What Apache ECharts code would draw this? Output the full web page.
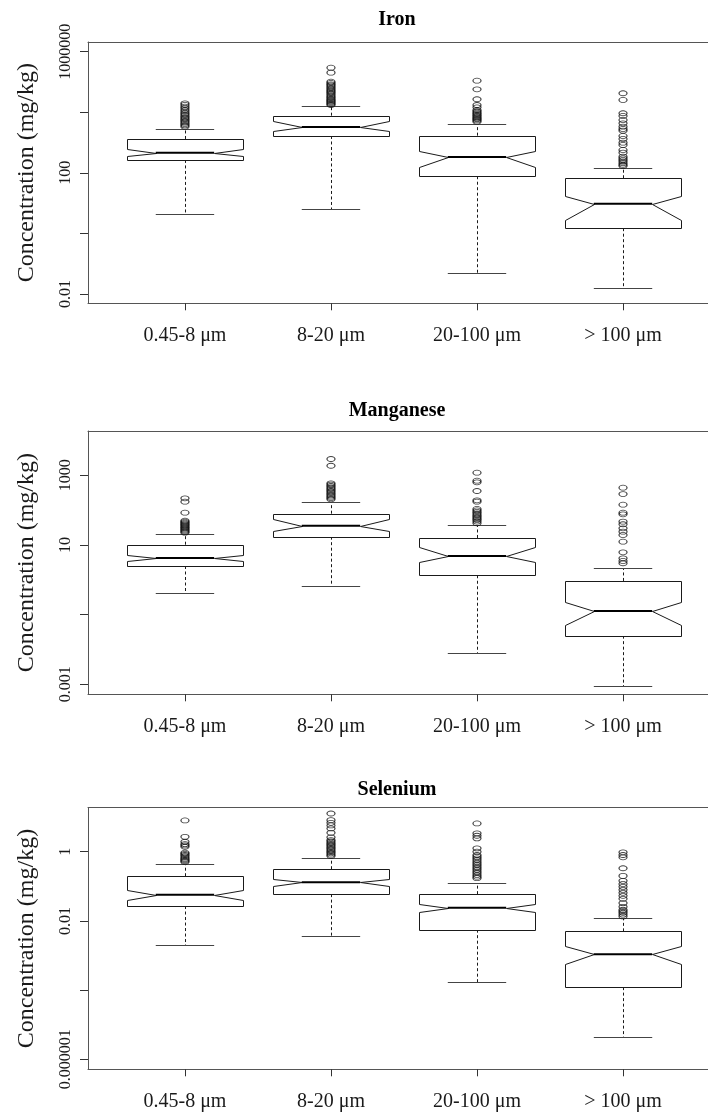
<!DOCTYPE html>
<html>
<head>
<meta charset="utf-8">
<script src="https://cdn.jsdelivr.net/npm/echarts@6/dist/echarts.min.js"></script>
<style>
html,body{margin:0;padding:0;background:#fff;}
#chart{width:708px;height:1114px;}
</style>
</head>
<body>
<div id="chart"></div>
<script>
// ---------------- DATA ----------------
const categories = ['0.45-8 μm', '8-20 μm', '20-100 μm', '> 100 μm'];
const panelTitles = ['Iron', 'Manganese', 'Selenium'];
const yAxisTitle = 'Concentration (mg/kg)';

// box stats per size class: [lowerWhisker, Q1, notchLow, median, notchHigh, Q3, upperWhisker] (mg/kg)
const ironStats = [
  [4.5, 267, 361, 465, 630, 1315, 2810],
  [6.3, 1650, 2415, 3270, 5280, 7730, 16100],
  [0.0497, 77.3, 153, 335, 541, 1690, 4210],
  [0.0155, 1.49, 2.73, 9.6, 17.3, 66.4, 145]
];
const ironOutliers = [
  [3350, 3700, 4110, 4550, 5050, 5600, 6150, 6800, 7550, 8400, 9270, 10500, 11900, 13500, 15300, 17500, 19800],
  [17400, 18800, 20300, 22000, 23600, 25500, 27500, 30000, 32700, 36000, 40200, 44000, 47900, 52000, 57400, 63000, 70000, 77000, 84000, 93000, 102000, 203000, 296000],
  [4900, 5400, 5880, 6300, 6840, 7500, 8150, 8900, 9700, 10800, 11900, 14600, 17400, 26900, 57400, 110000],
  [169, 185, 208, 235, 267, 300, 343, 465, 570, 834, 993, 1315, 1650, 2470, 2810, 3350, 4330, 5570, 7550, 9270, 25500, 42400]
];
const ironTicks = [0.01, 1, 100, 10000, 1000000];
const ironLabelTicks = [0.01, 100, 1000000];
const ironTickLabels = ['0.01', '100', '1000000'];

const manganeseStats = [
  [0.411, 2.49, 3.40, 4.24, 5.06, 10.2, 20.7],
  [0.679, 17.3, 25.7, 35.8, 56.9, 79.1, 175],
  [0.00813, 1.35, 3.19, 4.83, 8.93, 15.9, 38.2],
  [0.0009, 0.0249, 0.0506, 0.128, 0.227, 0.927, 2.23]
];
const manganeseOutliers = [
  [22.5, 24, 25.7, 27.5, 29.4, 31.5, 33.5, 36, 38.2, 41, 43.6, 46.5, 49.8, 84.5, 175, 219],
  [205, 222, 243, 265, 290, 318, 347, 380, 413, 450, 493, 540, 589, 1880, 2940],
  [42, 47, 52.5, 57, 62, 68, 74, 81, 89, 98, 108, 175, 192, 354, 630, 700, 1190],
  [2.99, 3.48, 4.15, 6.17, 12.4, 19.4, 24.1, 30.1, 39.3, 46.7, 76, 84.5, 143, 290, 441]
];
const manganeseTicks = [0.001, 0.1, 10, 1000];
const manganeseLabelTicks = [0.001, 10, 1000];
const manganeseTickLabels = ['0.001', '10', '1000'];

const seleniumStats = [
  [0.00202, 0.0269, 0.0389, 0.0568, 0.0774, 0.196, 0.452],
  [0.00358, 0.0594, 0.105, 0.132, 0.161, 0.312, 0.659],
  [0.000167, 0.00558, 0.0176, 0.024, 0.0313, 0.0594, 0.123],
  [0.00000456, 0.000122, 0.000575, 0.00109, 0.00185, 0.00499, 0.0124]
];
const seleniumOutliers = [
  [0.506, 0.54, 0.577, 0.62, 0.671, 0.74, 0.804, 0.87, 0.935, 1.39, 1.52, 1.66, 1.94, 2.7, 8.02],
  [0.752, 0.82, 0.9, 0.98, 1.07, 1.17, 1.28, 1.4, 1.53, 1.67, 1.82, 2.0, 2.17, 2.6, 3.52, 4.71, 5.75, 6.84, 8.17, 12.7],
  [0.172, 0.19, 0.213, 0.24, 0.266, 0.3, 0.333, 0.37, 0.414, 0.46, 0.515, 0.58, 0.646, 0.72, 0.804, 1.0, 1.25, 2.43, 2.89, 3.39, 6.56],
  [0.0135, 0.0152, 0.0172, 0.019, 0.021, 0.0256, 0.0327, 0.0436, 0.0531, 0.0649, 0.079, 0.0964, 0.117, 0.144, 0.2, 0.333, 0.69, 0.804, 0.962]
];
const seleniumTicks = [0.000001, 0.0001, 0.01, 1];
const seleniumLabelTicks = [0.000001, 0.01, 1];
const seleniumTickLabels = ['0.000001', '0.01', '1'];

// ---------------- LAYOUT ----------------
const FONT = '"Liberation Serif", "Times New Roman", serif';
const INK = '#1a1a1a';
const FRAME = '#555';
const X_MIN = 0.336, X_MAX = 4.582;
const panels = [
  { title: panelTitles[0], stats: ironStats, outliers: ironOutliers, ticks: ironTicks, labelTicks: ironLabelTicks, labels: ironTickLabels,
    grid: { left: 88, top: 42, right: 0, height: 261.3 }, yMin: -2.307, yMax: 6.32, titleTop: 5 },
  { title: panelTitles[1], stats: manganeseStats, outliers: manganeseOutliers, ticks: manganeseTicks, labelTicks: manganeseLabelTicks, labels: manganeseTickLabels,
    grid: { left: 88, top: 431, right: 0, height: 263.3 }, yMin: -3.287, yMax: 4.272, titleTop: 396 },
  { title: panelTitles[2], stats: seleniumStats, outliers: seleniumOutliers, ticks: seleniumTicks, labelTicks: seleniumLabelTicks, labels: seleniumTickLabels,
    grid: { left: 88, top: 807.7, right: 0, height: 261.6 }, yMin: -6.289, yMax: 1.272, titleTop: 775 }
];

const lg = v => Math.log10(v);

function renderBox(params, api) {
  const x = api.value(0);
  const lw = api.value(1), q1 = api.value(2), nl = api.value(3), md = api.value(4),
        nh = api.value(5), q3 = api.value(6), uw = api.value(7);
  const hw = 0.4, sw = 0.2, nf = 0.5;
  const c = (xx, yy) => api.coord([xx, yy]);
  const r = v => Math.round(v) + 0.5;
  const cx = r(c(x, md)[0]);
  const yLw = r(c(x, lw)[1]), yUw = r(c(x, uw)[1]), yQ1 = c(x, q1)[1], yQ3 = c(x, q3)[1];
  const sL = c(x - sw, md)[0], sR = c(x + sw, md)[0];
  const pts = [[x - hw, q1], [x + hw, q1], [x + hw, nl], [x + hw * nf, md], [x + hw, nh], [x + hw, q3],
               [x - hw, q3], [x - hw, nh], [x - hw * nf, md], [x - hw, nl]].map(p => {
    const q = c(p[0], p[1]); return [Math.round(q[0]) + 0.5, Math.round(q[1]) + 0.5];
  });
  const mL = c(x - hw * nf, md), mR = c(x + hw * nf, md);
  return {
    type: 'group',
    children: [
      { type: 'line', shape: { x1: cx, y1: yQ3, x2: cx, y2: yUw }, style: { stroke: INK, lineWidth: 1, lineDash: [3, 2.5] } },
      { type: 'line', shape: { x1: cx, y1: yQ1, x2: cx, y2: yLw }, style: { stroke: INK, lineWidth: 1, lineDash: [3, 2.5] } },
      { type: 'line', shape: { x1: sL, y1: yUw, x2: sR, y2: yUw }, style: { stroke: '#444', lineWidth: 1 } },
      { type: 'line', shape: { x1: sL, y1: yLw, x2: sR, y2: yLw }, style: { stroke: '#444', lineWidth: 1 } },
      { type: 'polygon', shape: { points: pts }, style: { fill: '#fff', stroke: INK, lineWidth: 1 } },
      { type: 'line', shape: { x1: mL[0], y1: mL[1], x2: mR[0], y2: mR[1] }, style: { stroke: '#000', lineWidth: 2 } }
    ]
  };
}

const option = { animation: false, backgroundColor: '#fff', title: [], grid: [], xAxis: [], yAxis: [], series: [] };

panels.forEach((p, i) => {
  option.title.push({
    text: p.title, left: 392, top: p.titleTop, textAlign: 'center',
    textStyle: { fontFamily: FONT, fontWeight: 'bold', fontSize: 20, color: '#000' }
  });
  option.grid.push(Object.assign({ show: false, containLabel: false }, p.grid));
  // bottom x axis (categories)
  option.xAxis.push({
    type: 'value', gridIndex: i, position: 'bottom', min: X_MIN, max: X_MAX,
    axisLine: { show: true, onZero: false, lineStyle: { color: FRAME, width: 1 } },
    splitLine: { show: false },
    axisTick: { show: true, inside: false, length: 7, customValues: categories.map((c, k) => k + 1), lineStyle: { color: '#333', width: 1 } },
    axisLabel: { show: true, margin: 22, customValues: categories.map((c, k) => k + 1),
      formatter: v => categories[Math.round(v) - 1] || '',
      fontFamily: FONT, fontSize: 20, color: INK }
  });
  // top frame line
  option.xAxis.push({
    type: 'value', gridIndex: i, position: 'top', min: X_MIN, max: X_MAX,
    axisLine: { show: true, onZero: false, lineStyle: { color: FRAME, width: 1 } },
    splitLine: { show: false }, axisTick: { show: false }, axisLabel: { show: false }
  });
  const tickLogs = p.ticks.map(lg);
  const labelLogs = p.labelTicks.map(lg);
  option.yAxis.push({
    type: 'value', gridIndex: i, position: 'left', min: p.yMin, max: p.yMax,
    name: yAxisTitle, nameLocation: 'middle', nameGap: 49, nameRotate: 90,
    nameTextStyle: { fontFamily: FONT, fontSize: 24, color: INK },
    axisLine: { show: true, onZero: false, lineStyle: { color: FRAME, width: 1 } },
    splitLine: { show: false },
    axisTick: { show: true, inside: false, length: 8, customValues: tickLogs, lineStyle: { color: '#333', width: 1 } },
    axisLabel: { show: true, rotate: 90, margin: 14, customValues: labelLogs,
      formatter: v => { const k = labelLogs.findIndex(t => Math.abs(t - v) < 1e-6); return k >= 0 ? p.labels[k] : ''; },
      fontFamily: FONT, fontSize: 16, color: INK }
  });
  option.series.push({
    type: 'custom', xAxisIndex: 2 * i, yAxisIndex: i, renderItem: renderBox, silent: true, clip: false,
    data: p.stats.map((s, k) => [k + 1].concat(s.map(lg)))
  });
  const pts = [];
  p.outliers.forEach((arr, k) => arr.forEach(v => pts.push([k + 1, lg(v)])));
  option.series.push({
    type: 'scatter', xAxisIndex: 2 * i, yAxisIndex: i, silent: true,
    symbol: 'circle', symbolSize: [8, 5],
    itemStyle: { color: 'rgba(0,0,0,0)', borderColor: '#111', borderWidth: 1 },
    data: pts
  });
});

const chart = echarts.init(document.getElementById('chart'), null, { renderer: 'canvas' });
chart.setOption(option);
</script>
</body>
</html>
